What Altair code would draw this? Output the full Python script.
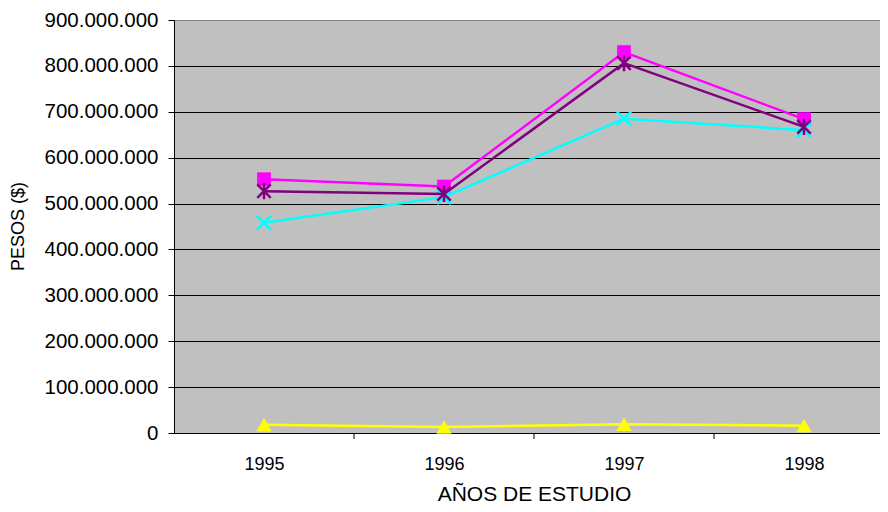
import altair as alt
import pandas as pd

years = [1995, 1996, 1997, 1998]
serie_magenta = [553e6, 537e6, 830e6, 684e6]
serie_morado = [527e6, 521e6, 806e6, 667e6]
serie_cian = [458e6, 514e6, 685e6, 660e6]
serie_amarilla = [18e6, 13e6, 19e6, 16e6]
y_ticks = [0, 100e6, 200e6, 300e6, 400e6, 500e6, 600e6, 700e6, 800e6, 900e6]
x_boundaries = [1995.5, 1996.5, 1997.5]

FONT = "Liberation Sans"
W = 706
H = 413
STEP = 180.0

xscale = alt.Scale(domain=[1994.5, 1994.5 + W / STEP], nice=False, zero=False)
yscale = alt.Scale(domain=[0, 900e6], nice=False)

xaxis = alt.Axis(
    values=years, format="d", ticks=False, domainColor="black",
    labelFontSize=18, labelPadding=22, labelFont=FONT, labelColor="black",
    titleFont=FONT, titleFontSize=21, titleColor="black", titleFontWeight="normal",
    titleY=67, titleBaseline="alphabetic", titleX=360, titleAlign="center",
    grid=False, labelFlush=False,
)
yaxis = alt.Axis(
    values=y_ticks, tickSize=6, tickColor="black", domainColor="black",
    labelExpr="replace(format(datum.value, ',d'), regexp(',', 'g'), '.')",
    labelFontSize=20.5, labelPadding=10, labelFont=FONT, labelColor="black",
    titleFont=FONT, titleFontSize=18, titleColor="black", titleFontWeight="normal",
    titleX=-156, titleY=206, titleAngle=-90, titleBaseline="middle", titleAlign="center",
    grid=True, gridWidth=1,
    gridColor={"condition": {"test": "datum.value >= 900000000", "value": "#808080"}, "value": "black"},
)

STAR = "M-1,-1L1,1M-1,1L1,-1M0,-1.2L0,1.2"
XSHAPE = "M-1,-1L1,1M-1,1L1,-1"


def enc_x():
    return alt.X("year:Q", scale=xscale, axis=xaxis, title="AÑOS DE ESTUDIO")


def enc_y():
    return alt.Y("value:Q", scale=yscale, axis=yaxis, title="PESOS ($)")


def serie(vals, color, shape, size, filled, sw=2):
    df = pd.DataFrame({"year": years, "value": vals})
    base = alt.Chart(df).encode(x=enc_x(), y=enc_y())
    line = base.mark_line(color=color, strokeWidth=2.5)
    pts = base.mark_point(shape=shape, size=size, filled=filled, color=color,
                          opacity=1, strokeWidth=sw)
    return [line, pts]


ticks_df = pd.DataFrame({"year": x_boundaries})
tick_layer = alt.Chart(ticks_df).mark_rule(color="black", strokeWidth=1).encode(
    x=enc_x(), y=alt.value(H), y2=alt.value(H + 6)
)

layers = [tick_layer]
layers += serie(serie_magenta, "#FF00FF", "square", 190, True)
layers += serie(serie_cian, "#00FFFF", XSHAPE, 200, False, 2.5)
layers += serie(serie_morado, "#800080", STAR, 180, False, 2.5)
layers += serie(serie_amarilla, "#FFFF00", "triangle-up", 240, True)

chart = alt.layer(*layers).properties(
    width=W, height=H,
    autosize=alt.AutoSizeParams(type="none"),
    padding={"left": 166, "top": 12, "right": 0, "bottom": 71},
    background="white",
).configure_view(fill="#C0C0C0", stroke="#808080", strokeWidth=1)

chart.save("out.html", embed_options={"renderer": "svg", "actions": False})
